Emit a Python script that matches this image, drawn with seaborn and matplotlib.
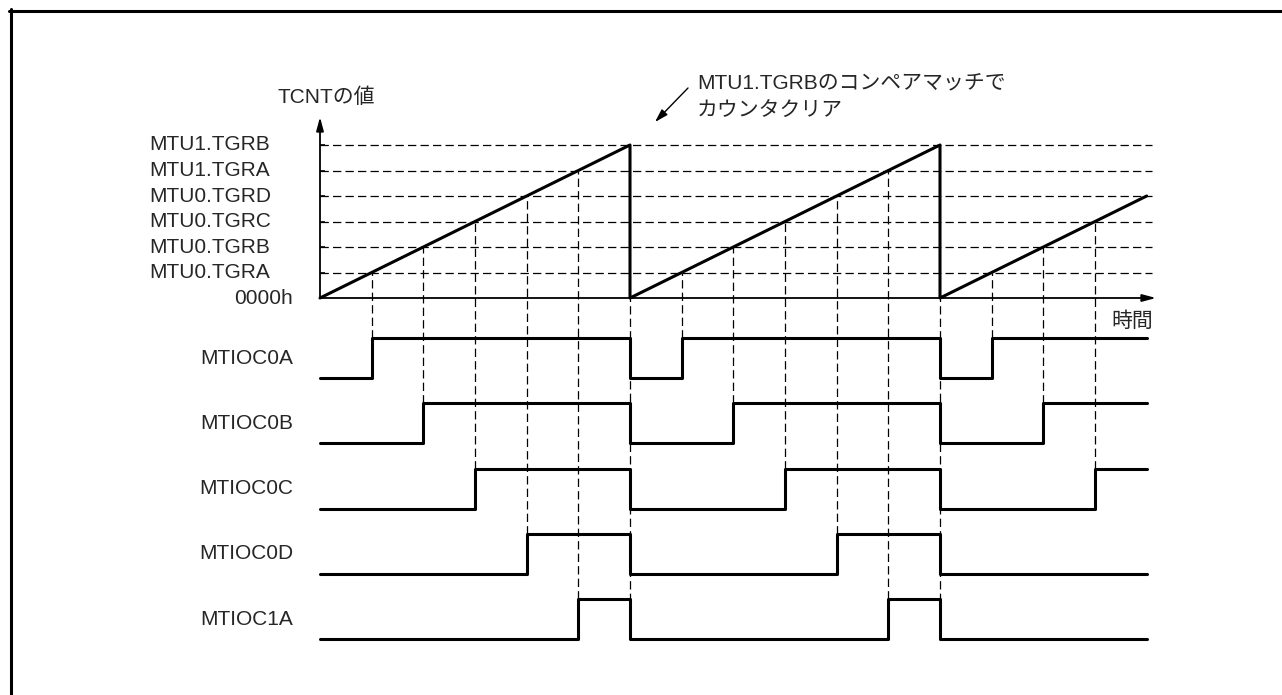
import matplotlib
matplotlib.use("Agg")
import matplotlib.pyplot as plt
from matplotlib.lines import Line2D
import seaborn as sns

# counter levels (TCNT compare registers), in counts
level_labels = ["0000h", "MTU0.TGRA", "MTU0.TGRB", "MTU0.TGRC",
                "MTU0.TGRD", "MTU1.TGRA", "MTU1.TGRB"]
level_values = [0, 1, 2, 3, 4, 5, 6]

# sawtooth of TCNT: cleared on MTU1.TGRB compare match
cycle_starts = [0, 6, 12]
t_end = 16
ramp_t = [0, 6, 6, 12, 12, 16]
ramp_v = [0, 6, 0, 6, 0, 4]

# output pins and the level at which each goes high
signal_names = ["MTIOC0A", "MTIOC0B", "MTIOC0C", "MTIOC0D", "MTIOC1A"]
signal_match = [1, 2, 3, 4, 5]

sns.set_style("white")
plt.rcParams["font.family"] = ["Liberation Sans", "Noto Sans CJK JP", "DejaVu Sans"]
plt.rcParams["lines.scale_dashes"] = False

W, H = 1282, 695
X0, Y0 = 320, 298
XU, YU = 310 / 6, 25.5
FS = 15
DASH = (0, (6, 3))


def px(x, y):
    return (x - X0) / XU, (Y0 - y) / YU


def sig_low(i):
    return px(0, 378 + i * 65.25)[1]


def sig_high(i):
    return sig_low(i) + 40 / YU


fig = plt.figure(figsize=(W / 100, H / 100), dpi=100)
ax = fig.add_axes([0, 0, 1, 1])

# dashed level lines + ticks
x_dash_end = px(1152, 0)[0]
for v in level_values[1:]:
    ax.hlines(v, 0, x_dash_end, colors="k", lw=0.9, linestyles=DASH, zorder=1)
    ax.hlines(v, 0, px(325, 0)[0], colors="k", lw=1.2, zorder=2)

# dashed verticals at compare matches
for s in cycle_starts:
    for i, c in enumerate(signal_match):
        t = s + c
        if t < t_end:
            ax.vlines(t, sig_high(i), c, colors="k", lw=0.9, linestyles=DASH, zorder=1)
for s in cycle_starts[1:]:
    ax.vlines(s, sig_low(len(signal_names) - 1), 0, colors="k", lw=0.9,
              linestyles=DASH, zorder=1)

# axes with arrows
arrow = dict(arrowstyle="-|>,head_length=0.45,head_width=0.12", lw=1.3,
             color="k", mutation_scale=18, shrinkA=0, shrinkB=0)
ax.annotate("", xy=px(320, 117), xytext=(0, 0), arrowprops=arrow)
ax.annotate("", xy=px(1156, 298), xytext=(0, 0), arrowprops=arrow)

# TCNT ramp
sns.lineplot(x=ramp_t, y=ramp_v, ax=ax, color="k", lw=2.2, sort=False,
             estimator=None, zorder=3)

# output waveforms
for i, c in enumerate(signal_match):
    lo, hi = sig_low(i), sig_high(i)
    t, v = [0], [lo]
    for s in cycle_starts:
        if s > 0:
            t.append(s)
            v.append(lo)
        if s + c < t_end:
            t.append(s + c)
            v.append(hi)
    t.append(t_end)
    v.append(v[-1])
    sns.lineplot(x=t, y=v, ax=ax, color="k", lw=2.2, sort=False,
                 estimator=None, drawstyle="steps-post", zorder=3)
    ax.text(px(293, 0)[0], (lo + hi) / 2, signal_names[i], ha="right",
            va="center", fontsize=FS)

# level labels
for v, lab in zip(level_values, level_labels):
    if v == 0:
        ax.text(px(293, 0)[0], v, lab, ha="right", va="center", fontsize=FS)
    else:
        ax.text(px(149, 0)[0], v, lab, ha="left", va="center", fontsize=FS)

ax.text(*px(278, 97), "TCNTの値", ha="left", va="center", fontsize=FS)
ax.text(*px(1153, 321), "時間", ha="right", va="center", fontsize=FS)
ax.text(*px(697, 83), "MTU1.TGRBのコンペアマッチで", ha="left", va="center", fontsize=FS)
ax.text(*px(697, 111), "カウンタクリア", ha="left", va="center", fontsize=FS)
ax.annotate("", xy=px(655, 122), xytext=px(688, 88),
            arrowprops=dict(arrowstyle="-|>,head_length=0.5,head_width=0.15",
                            lw=1.0, color="k", mutation_scale=16,
                            shrinkA=0, shrinkB=0))

ax.set_xlim(px(0, 0)[0], px(W, 0)[0])
ax.set_ylim(px(0, H)[1], px(0, 0)[1])
ax.axis("off")

# frame (left and top edges visible)
fig.add_artist(Line2D([10.5 / W, 10.5 / W], [0, 1 - 9 / H], color="k", lw=2.2,
                      transform=fig.transFigure))
fig.add_artist(Line2D([9 / W, 1], [1 - 10.5 / H, 1 - 10.5 / H], color="k", lw=2.2,
                      transform=fig.transFigure))

fig.savefig("out.png", dpi=100)
